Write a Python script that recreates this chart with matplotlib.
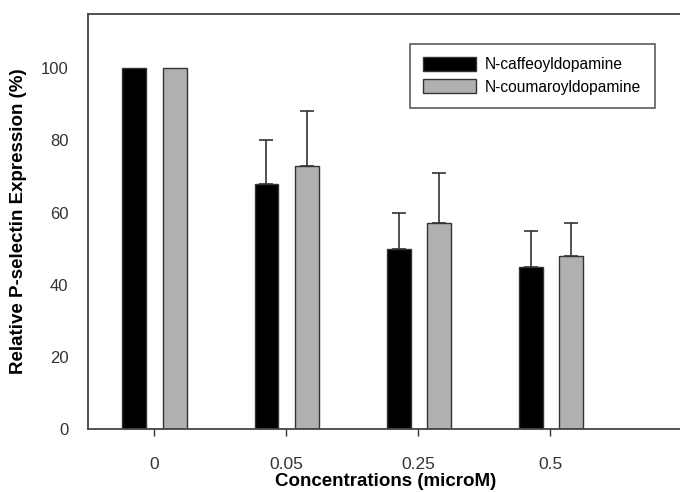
import numpy as np
import matplotlib.pyplot as plt

plt.rcParams['font.family'] = ['Liberation Sans', 'DejaVu Sans']

# Data
concs = ['0', '0.05', '0.25', '0.5']
caffeoyl = [100, 68, 50, 45]
caffeoyl_err = [0, 12, 10, 10]
coumaroyl = [100, 73, 57, 48]
coumaroyl_err = [0, 15, 14, 9]

x = np.arange(len(concs))
w = 0.18

fig = plt.figure(figsize=(6.8, 4.92), dpi=100)
ax = fig.add_axes([0.129, 0.128, 0.875, 0.8435])

ax.bar(x - 0.148, caffeoyl, w, color='black', edgecolor='#333333', linewidth=1,
       label='N-caffeoyldopamine')
ax.bar(x + 0.158, coumaroyl, w, color='#b0b0b0', edgecolor='#333333', linewidth=1,
       label='N-coumaroyldopamine')
ax.errorbar(x[1:] - 0.148, caffeoyl[1:], yerr=[np.zeros(3), caffeoyl_err[1:]],
            fmt='none', ecolor='#333333', elinewidth=1.2, capsize=5, capthick=1.2)
ax.errorbar(x[1:] + 0.158, coumaroyl[1:], yerr=[np.zeros(3), coumaroyl_err[1:]],
            fmt='none', ecolor='#333333', elinewidth=1.2, capsize=5, capthick=1.2)

ax.set_xlim(-0.5, 4.0)
ax.set_ylim(0, 115)
ax.set_xticks(x)
ax.set_xticklabels(concs)
ax.set_yticks([0, 20, 40, 60, 80, 100])
ax.tick_params(axis='y', length=0, pad=14, labelsize=12, labelcolor='#333333')
ax.tick_params(axis='x', direction='out', length=5, width=1, pad=15,
               labelsize=12.5, labelcolor='#333333', color='#333333')
for s in ax.spines.values():
    s.set_color('#444444')
    s.set_linewidth(1.3)
ax.spines['right'].set_visible(False)

ax.set_xlabel('Concentrations (microM)', fontsize=13.5, fontweight='bold', labelpad=1)
ax.set_ylabel('Relative P-selectin Expression (%)', fontsize=13.5, fontweight='bold',
              labelpad=10)

leg = ax.legend(loc='upper left', bbox_to_anchor=(0.541, 0.928), fontsize=11.2,
                frameon=True, fancybox=False, handlelength=3.4, handleheight=1.0,
                borderpad=0.85, labelspacing=0.45, handletextpad=0.6,
                borderaxespad=0)
leg.get_frame().set_edgecolor('#333333')
leg.get_frame().set_linewidth(1.2)

fig.savefig('out.png', dpi=100)
